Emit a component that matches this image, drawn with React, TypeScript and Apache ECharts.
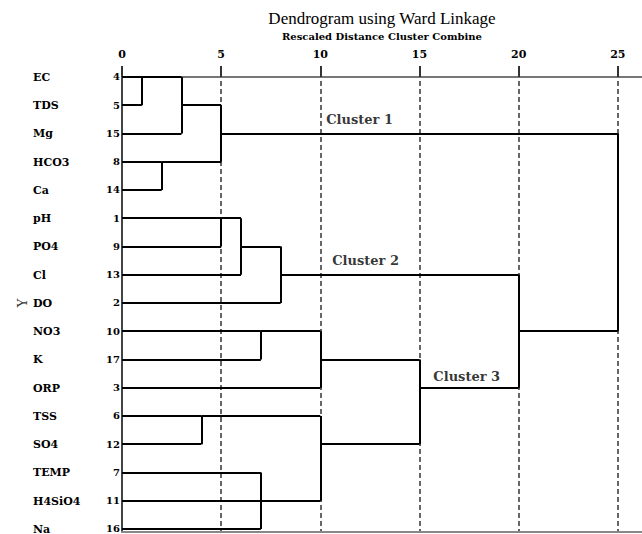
import React, { useEffect, useRef } from "react";
import * as echarts from "echarts";

// Leaves (top to bottom) and their case numbers
const variables = ["EC", "TDS", "Mg", "HCO3", "Ca", "pH", "PO4", "Cl", "DO", "NO3", "K", "ORP", "TSS", "SO4", "TEMP", "H4SiO4", "Na"];
const caseNumbers = [4, 5, 15, 8, 14, 1, 9, 13, 2, 10, 17, 3, 6, 12, 7, 11, 16];

// Merges: children (leaf index or "m"+merge index), rescaled distance, row where the joined cluster's stem is drawn
const mergeChildren: (number | string)[][] = [
  [0, 1],          // m0  EC+TDS
  ["m0", 2],       // m1  +Mg
  [3, 4],          // m2  HCO3+Ca
  ["m1", "m2"],    // m3  Cluster 1
  [5, 6],          // m4  pH+PO4
  ["m4", 7],       // m5  +Cl
  ["m5", 8],       // m6  +DO  (Cluster 2)
  [9, 10],         // m7  NO3+K
  ["m7", 11],      // m8  +ORP
  [12, 13],        // m9  TSS+SO4
  [14, 15, 16],    // m10 TEMP+H4SiO4+Na
  ["m9", "m10"],   // m11
  ["m8", "m11"],   // m12 Cluster 3
  ["m6", "m12"],   // m13
  ["m3", "m13"],   // m14 root
];
const mergeDistance = [1, 3, 2, 5, 5, 6, 8, 7, 10, 4, 7, 10, 15, 20, 25];
const mergeStemRow = [0, 1, 3, 2, 5, 6, 7, 9, 10, 12, 15, 13, 11, 9, 9];

const xTicks = [0, 5, 10, 15, 20, 25];

const clusterNames = ["Cluster 1", "Cluster 2", "Cluster 3"];
const clusterX = [10.3, 10.6, 15.7];
const clusterRow = [1.5, 6.5, 10.6];

function buildSegments() {
  const segs: number[][][] = [];
  const info = (c: number | string) => {
    if (typeof c === "number") return { h: 0, row: c };
    const i = parseInt(c.slice(1), 10);
    return { h: mergeDistance[i], row: mergeStemRow[i] };
  };
  mergeChildren.forEach((children, i) => {
    const h = mergeDistance[i];
    const rows: number[] = [];
    children.forEach((c) => {
      const ci = info(c);
      rows.push(ci.row);
      segs.push([[ci.h, ci.row], [h, ci.row]]);
    });
    segs.push([[h, Math.min(...rows)], [h, Math.max(...rows)]]);
  });
  return segs;
}

const SERIF = "'DejaVu Serif', 'Liberation Serif', serif";

export default function App() {
  const ref = useRef<HTMLDivElement>(null);
  useEffect(() => {
    if (!ref.current) return;
    const chart = echarts.init(ref.current, undefined, { renderer: "svg", width: 642, height: 534 });
    const segments = buildSegments();
    const xMax = 26.22;
    chart.setOption({
      animation: false,
      backgroundColor: "#ffffff",
      grid: { left: 122, right: 0, top: 73, bottom: 2.3, containLabel: false, outerBoundsMode: "none" },
      graphic: [
        {
          type: "text",
          x: 382,
          y: 18,
          style: {
            text: "Dendrogram using Ward Linkage",
            align: "center",
            verticalAlign: "middle",
            font: "normal 17px 'Liberation Serif', serif",
            fill: "#000",
          },
        },
        {
          type: "text",
          x: 382,
          y: 36,
          style: {
            text: "Rescaled Distance Cluster Combine",
            align: "center",
            verticalAlign: "middle",
            font: "bold 10px " + SERIF,
            fill: "#000",
          },
        },
        {
          type: "text",
          x: 22,
          y: 303,
          rotation: Math.PI / 2,
          style: {
            text: "Y",
            align: "center",
            verticalAlign: "middle",
            font: "normal 13px " + SERIF,
            fill: "#333",
          },
        },
      ],
      xAxis: [
        {
          type: "value",
          position: "top",
          min: 0,
          max: xMax,
          interval: 5,
          axisLine: { show: true, lineStyle: { color: "#777", width: 2 } },
          axisTick: { show: true, length: 11, customValues: xTicks, lineStyle: { color: "#333", width: 2 } },
          axisLabel: {
            show: true,
            margin: 13,
            customValues: xTicks,
            color: "#000",
            fontFamily: SERIF,
            fontWeight: "bold",
            fontSize: 11,
          },
          splitLine: { show: true, lineStyle: { color: "#666", width: 2, type: [5, 3] } },
        },
        {
          type: "value",
          position: "bottom",
          min: 0,
          max: xMax,
          axisLine: { show: true, lineStyle: { color: "#888", width: 2 } },
          axisTick: { show: false },
          axisLabel: { show: false },
          splitLine: { show: false },
        },
      ],
      yAxis: {
        type: "value",
        inverse: true,
        min: -0.14,
        max: 16.1,
        axisLine: { show: true, lineStyle: { color: "#444", width: 2 } },
        axisTick: { show: false },
        splitLine: { show: false },
        axisLabel: {
          show: true,
          margin: 2,
          customValues: variables.map((_, i) => i),
          formatter: (v: number) => {
            const i = Math.round(v);
            return "{n|" + variables[i] + "}{c|" + caseNumbers[i] + "}";
          },
          rich: {
            n: { width: 67, align: "left", fontFamily: SERIF, fontWeight: "bold", fontSize: 11, color: "#000", padding: [1, 0, 0, 0] },
            c: { width: 20, align: "right", fontFamily: SERIF, fontWeight: "bold", fontSize: 10, color: "#000", padding: [0, 0, 0, 0] },
          },
        },
      },
      series: [
        {
          type: "lines",
          coordinateSystem: "cartesian2d",
          xAxisIndex: 0,
          yAxisIndex: 0,
          polyline: false,
          silent: true,
          lineStyle: { color: "#000", width: 2, opacity: 1, curveness: 0 },
          data: segments.map((s) => ({ coords: s })),
        },
        {
          type: "scatter",
          xAxisIndex: 0,
          yAxisIndex: 0,
          symbolSize: 0,
          silent: true,
          data: clusterNames.map((n, i) => [clusterX[i], clusterRow[i], n]),
          label: {
            show: true,
            position: "right",
            distance: 0,
            formatter: (p: any) => p.value[2],
            fontFamily: SERIF,
            fontWeight: "bold",
            fontSize: 13,
            color: "#000",
            textBorderWidth: 0,
          },
        },
      ],
    });
    return () => chart.dispose();
  }, []);
  return <div ref={ref} style={{ position: "fixed", left: 0, top: 0, width: 642, height: 534 }} />;
}
